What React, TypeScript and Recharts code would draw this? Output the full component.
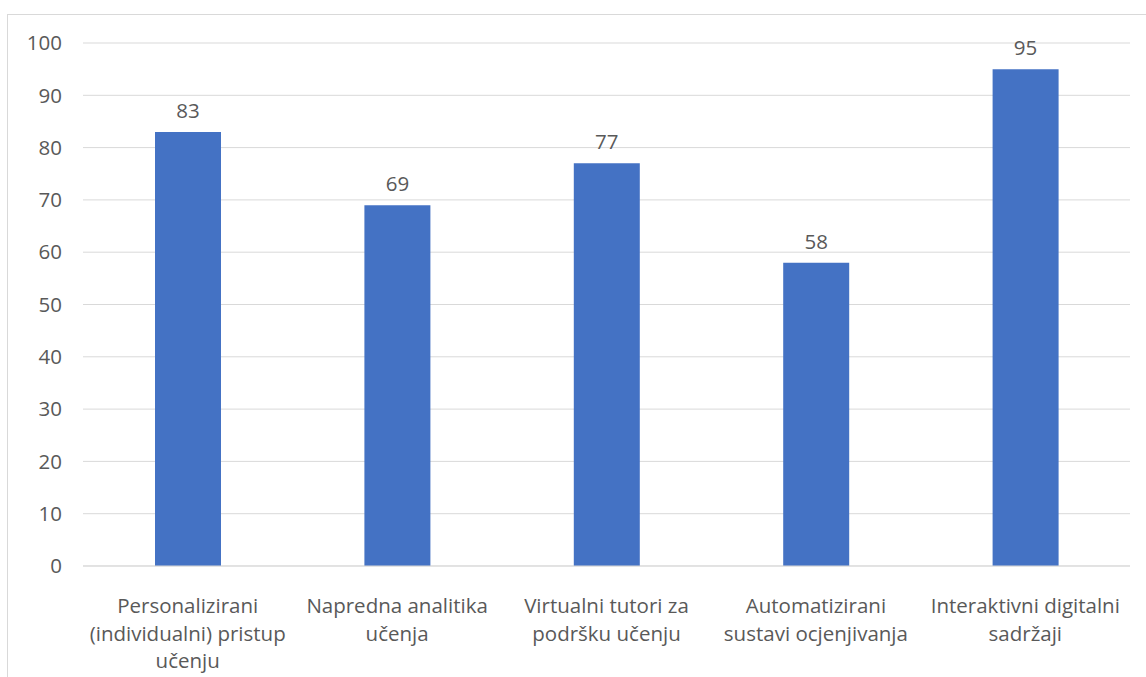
import { BarChart, Bar, XAxis, YAxis, CartesianGrid, LabelList } from 'recharts'

const categories = [
  'Personalizirani (individualni) pristup učenju',
  'Napredna analitika učenja',
  'Virtualni tutori za podršku učenju',
  'Automatizirani sustavi ocjenjivanja',
  'Interaktivni digitalni sadržaji',
]
const categoryLines = [
  ['Personalizirani', '(individualni) pristup', 'učenju'],
  ['Napredna analitika', 'učenja'],
  ['Virtualni tutori za', 'podršku učenju'],
  ['Automatizirani', 'sustavi ocjenjivanja'],
  ['Interaktivni digitalni', 'sadržaji'],
]
const values = [83, 69, 77, 58, 95]
const yTicks = [0, 10, 20, 30, 40, 50, 60, 70, 80, 90, 100]

const data = categories.map((name, i) => ({ name, value: values[i] }))

const FONT = '"Open Sans", sans-serif'
const TEXT = '#595959'
const FS = 20.5

function CategoryTick(props: any) {
  const { x, y, index } = props
  const lines = categoryLines[index] || []
  return (
    <g>
      {lines.map((line, i) => (
        <text
          key={i}
          x={x}
          y={y + 39 + i * 27.5}
          textAnchor="middle"
          fill={TEXT}
          fontSize={FS}
          fontFamily={FONT}
        >
          {line}
        </text>
      ))}
    </g>
  )
}

export default function App() {
  return (
    <div style={{ position: 'fixed', left: 0, top: 0, width: 1146, height: 677, overflow: 'hidden', background: '#fff' }}>
      <div
        style={{
          position: 'absolute',
          left: 7,
          top: 14,
          width: 1200,
          height: 700,
          border: '1px solid #d9d9d9',
        }}
      />
      <div style={{ position: 'absolute', left: 0, top: 0 }}>
        <BarChart
          width={1146}
          height={677}
          data={data}
          margin={{ top: 43, right: 16, bottom: 0, left: 0 }}
        >
          <CartesianGrid vertical={false} stroke="#d9d9d9" strokeWidth={1} />
          <XAxis
            dataKey="name"
            axisLine={{ stroke: '#d9d9d9' }}
            tickLine={false}
            interval={0}
            height={111}
            tick={<CategoryTick />}
          />
          <YAxis
            domain={[0, 100]}
            ticks={yTicks}
            width={83}
            axisLine={false}
            tickLine={false}
            tickSize={0}
            tickMargin={21}
            tick={{ fill: TEXT, fontSize: FS, fontFamily: FONT }}
          />
          <Bar dataKey="value" fill="#4472C4" barSize={66} isAnimationActive={false}>
            <LabelList
              dataKey="value"
              position="top"
              offset={14}
              fill={TEXT}
              fontSize={FS}
              fontFamily={FONT}
            />
          </Bar>
        </BarChart>
      </div>
    </div>
  )
}
